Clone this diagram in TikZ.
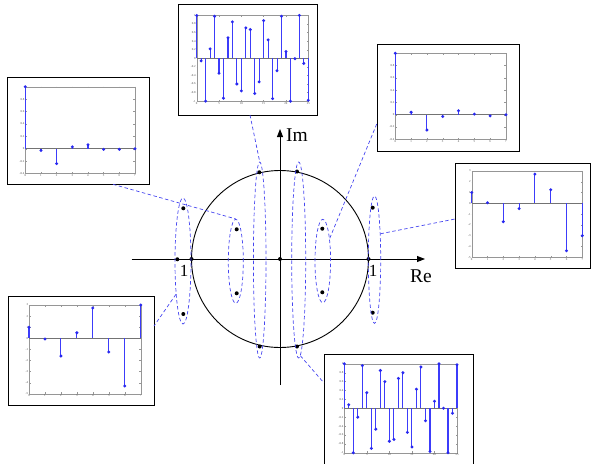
\documentclass[tikz,border=0pt]{standalone}
\usepackage{fontspec}
\setmainfont{Liberation Serif}
\usetikzlibrary{shapes.geometric,arrows.meta}
\definecolor{stemblue}{RGB}{60,60,250}
\definecolor{dotblue}{RGB}{40,40,240}
\definecolor{dashblue}{RGB}{70,70,240}
\definecolor{axgray}{RGB}{150,150,150}
\tikzset{
 frame/.style={draw=black, line width=1.1pt, inner sep=0pt, anchor=north west},
 axbox/.style={draw=axgray, line width=0.4pt},
 zeroline/.style={draw=black!55, line width=0.6pt},
 stemfill/.style={fill=stemblue},
 sdot/.style={circle, fill=dotblue, inner sep=0pt, minimum size=3.3pt},
 ticklab/.style={font=\fontsize{3}{3}\selectfont, text=black!70, inner sep=0.8pt},
 pz/.style={circle, fill=black, inner sep=0pt, minimum size=4pt},
 grp/.style={ellipse, draw=dashblue, dash pattern=on 3.5pt off 2.5pt, line width=0.7pt, inner sep=0pt},
 conn/.style={draw=dashblue, dash pattern=on 3.5pt off 2.5pt, line width=0.7pt},
 mainaxis/.style={draw=black, line width=0.9pt, -{Triangle[length=8pt,width=6pt]}},
 lab/.style={font=\fontsize{19.5}{19.5}\selectfont, inner sep=0pt},
 onelab/.style={font=\fontsize{17}{17}\selectfont, inner sep=0pt},
}
% #1 prefix, #2 nmax, #3 ymin, #4 ymax, #5 xticks, #6 yticks, #7 values
\newcommand\stemplot[7]{%
  \draw[axbox] (0,#3) rectangle (#2,#4);
  \foreach \xt [count=\kk] in {#5} {
    \draw[axbox] (\xt,#3) -- ++(0pt,1.5pt);
    \draw[axbox] (\xt,#4) -- ++(0pt,-1.5pt);
    \node[ticklab, below] (#1x\kk) at (\xt,#3) {\xt};}
  \foreach \yt [count=\kk] in {#6} {
    \draw[axbox] (0,\yt) -- ++(1.5pt,0pt);
    \draw[axbox] (#2,\yt) -- ++(-1.5pt,0pt);
    \node[ticklab, left] (#1y\kk) at (0,\yt) {\yt};}
  \draw[zeroline] (0,0) -- (#2,0);
  \foreach \vv [count=\ii from 0] in {#7} {
    \fill[stemfill] ([xshift=-0.55pt]\ii,0) rectangle ([xshift=0.55pt]\ii,\vv);
    \node[sdot] (#1s\ii) at (\ii,\vv) {};}
}
\begin{document}
\begin{tikzpicture}[x=1pt,y=-1pt]
\useasboundingbox (0,0) rectangle (591,463);

% ---------- plot frames ----------
\node[frame, minimum width=138.4pt, minimum height=111pt] (bTop) at (178.3,4) {};
\node[frame, minimum width=141.8pt, minimum height=107pt] (bTL) at (6.7,77.3) {};
\node[frame, minimum width=141.8pt, minimum height=107pt] (bTR) at (376.7,44) {};
\node[frame, minimum width=135pt, minimum height=105.6pt] (bR) at (455,162.7) {};
\node[frame, minimum width=146pt, minimum height=109pt] (bBL) at (8,296) {};
\node[frame, minimum width=149.3pt, minimum height=112pt] (bBR) at (324,354) {};

% ---------- stem plots ----------
\begin{scope}[shift={(196.7pt,-58.3pt)}, x=4.464pt, y=42.85pt]
\stemplot{A}{25}{-1}{1}{0,5,10,15,20,25}{1,0.8,0.6,0.4,0.2,0,-0.2,-0.4,-0.6,-0.8,-1}
{1.0,-0.06,-1.0,0.22,0.98,-0.35,-0.93,0.48,0.85,-0.6,-0.76,0.71,0.67,-0.82,-0.55,0.88,0.43,-0.94,-0.29,0.98,0.16,-1.0,-0.01,1.0,-0.12,-0.98}
\end{scope}

\begin{scope}[shift={(344.3pt,-408.3pt)}, x=4.508pt, y=44.5pt]
\stemplot{F}{25}{-1}{1}{0,5,10,15,20,25}{1,0.8,0.6,0.4,0.2,0,-0.2,-0.4,-0.6,-0.8,-1}
{1.0,0.08,-1.0,-0.2,0.96,0.35,-0.9,-0.47,0.85,0.6,-0.74,-0.7,0.67,0.8,-0.54,-0.87,0.43,0.93,-0.28,-0.97,0.16,1.0,0,-1.0,-0.11,0.98}
\end{scope}

\begin{scope}[shift={(25.3pt,-148.7pt)}, x=15.67pt, y=62pt]
\stemplot{B}{7}{-0.4}{1}{0,1,2,3,4,5,6,7}{0.8,0.6,0.4,0.2,0,-0.2,-0.4}
{1.0,-0.03,-0.24,0.03,0.065,-0.01,-0.01,0}
\end{scope}

\begin{scope}[shift={(395.3pt,-114.7pt)}, x=15.81pt, y=61.4pt]
\stemplot{C}{7}{-0.4}{1}{0,1,2,3,4,5,6,7}{0.8,0.6,0.4,0.2,0,-0.2,-0.4}
{1.0,0.04,-0.25,-0.03,0.065,0.01,-0.02,0}
\end{scope}

\begin{scope}[shift={(471.7pt,-203.3pt)}, x=15.8pt, y=10.8pt]
\stemplot{D}{7}{-5}{3}{0,1,2,3,4,5,6,7}{3,2,1,0,-1,-2,-3,-4,-5}
{1.0,0.05,-1.7,-0.5,2.7,1.25,-4.4,-3.0}
\end{scope}

\begin{scope}[shift={(29pt,-338.3pt)}, x=15.96pt, y=11.1pt]
\stemplot{E}{7}{-5}{3}{0,1,2,3,4,5,6,7}{3,2,1,0,-1,-2,-3,-4,-5}
{1.0,-0.06,-1.6,0.5,2.73,-1.23,-4.3,3.0}
\end{scope}

% ---------- z-plane ----------
\node[circle, draw=black, line width=0.9pt, inner sep=0pt, minimum size=177pt] (uc) at (280,259) {};
\coordinate (hxL) at (131.7,259);
\coordinate (hxR) at (425,259);
\coordinate (vyB) at (280,385);
\coordinate (vyT) at (280,129);
\draw[mainaxis] (hxL) -- (hxR);
\draw[mainaxis] (vyB) -- (vyT);
\node[lab] (im) at (297,135) {Im};
\node[lab] (re) at (421,276) {Re};
\node[onelab] (oneL) at (184,270.5) {1};
\node[onelab] (oneR) at (373,270.5) {1};

% poles / zeros
\node[pz] (z0) at (280,259) {};
\node[pz] (z1) at (191.5,259) {};
\node[pz] (z2) at (177.3,259.3) {};
\node[pz] (z3) at (368.5,259) {};
\node[pz] (z4) at (372.7,207.7) {};
\node[pz] (z5) at (372.7,312.7) {};
\node[pz] (z6) at (183.3,208.3) {};
\node[pz] (z7) at (183.3,314) {};
\node[pz] (z8) at (236.7,229.3) {};
\node[pz] (z9) at (236.7,293.3) {};
\node[pz] (z10) at (322.3,228.7) {};
\node[pz] (z11) at (322.3,292.3) {};
\node[pz] (z12) at (259.3,172.3) {};
\node[pz] (z13) at (297,171.5) {};
\node[pz] (z14) at (259.7,346.5) {};
\node[pz] (z15) at (297,346.5) {};

% ---------- dashed groups ----------
\node[grp, minimum width=16pt, minimum height=126pt] (eLo) at (183,261) {};
\node[grp, minimum width=15pt, minimum height=84pt] (eLi) at (235.8,261.3) {};
\node[grp, minimum width=12.6pt, minimum height=196pt] (eCl) at (259.7,260) {};
\node[grp, minimum width=14pt, minimum height=196pt] (eCr) at (298.7,260) {};
\node[grp, minimum width=15.6pt, minimum height=83.4pt] (eRi) at (322.8,261) {};
\node[grp, minimum width=12.4pt, minimum height=127.4pt] (eRo) at (374.5,259.7) {};

% ---------- connectors ----------
\coordinate (cTop) at (250,115);
\coordinate (cTL) at (113,184.3);
\coordinate (cTR) at (376.7,124);
\coordinate (cR) at (455,219);
\coordinate (cBL) at (154,326);
\coordinate (cBR) at (324,383);
\draw[conn] (cTop) -- (eCl.north);
\draw[conn] (cTL) -- (eLi.north);
\draw[conn] (cTR) -- (eRi.73);
\draw[conn] (eRo.77) -- (cR);
\draw[conn] (eLo.258) -- (cBL);
\draw[conn] (eCr.271) -- (cBR);
\end{tikzpicture}
\end{document}
